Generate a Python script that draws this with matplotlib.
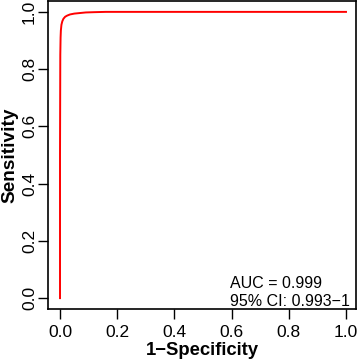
import matplotlib
matplotlib.use("Agg")
import matplotlib.pyplot as plt

fpr = [0.0, 0.0, 0.001, 0.002, 0.003, 0.005, 0.008, 0.012, 0.018, 0.025, 0.035, 0.05, 0.07, 0.09, 0.12, 0.16, 0.2, 1.0]
tpr = [0.0, 0.5, 0.85, 0.91, 0.935, 0.955, 0.967, 0.976, 0.983, 0.987, 0.991, 0.994, 0.996, 0.998, 0.999, 1.0, 1.0, 1.0]
ticks = [0.0, 0.2, 0.4, 0.6, 0.8, 1.0]
tick_labels = ["0.0", "0.2", "0.4", "0.6", "0.8", "1.0"]
auc_text = "AUC = 0.999"
ci_text = "95% CI: 0.993\u22121"

plt.rcParams['font.family'] = ['Liberation Sans', 'DejaVu Sans']

W, H = 358, 360
fig = plt.figure(figsize=(W/100, H/100), dpi=100)
ax = fig.add_axes([48/W, 51/H, 308/W, 308/H])
ax.plot(fpr, tpr, color='#ff0000', lw=1.4)
ax.set_xlim(-0.042, 1.035)
ax.set_ylim(-0.038, 1.038)
ax.set_xticks(ticks)
ax.set_xticklabels(tick_labels, fontsize=12.5)
ax.set_yticks(ticks)
ax.set_yticklabels(tick_labels, fontsize=12.5, rotation=90, va='center')
ax.tick_params(length=7, width=1.0)
ax.tick_params(axis='x', pad=4.5)
ax.tick_params(axis='y', pad=1.0)
for s in ax.spines.values():
    s.set_linewidth(1.2)
fig.text(202/W, 1 - 355/H, "1\u2212Specificity", fontsize=13.3, fontweight='bold',
         ha='center', va='baseline')
fig.text(10/W, 1 - 155/H, "Sensitivity", fontsize=13.7, fontweight='bold',
         ha='center', va='center', rotation=90)
ax.text(0.595, 0.035, auc_text, fontsize=11.5, va='baseline')
ax.text(0.595, -0.027, ci_text, fontsize=11.5, va='baseline')
fig.savefig("out.png", dpi=100)
